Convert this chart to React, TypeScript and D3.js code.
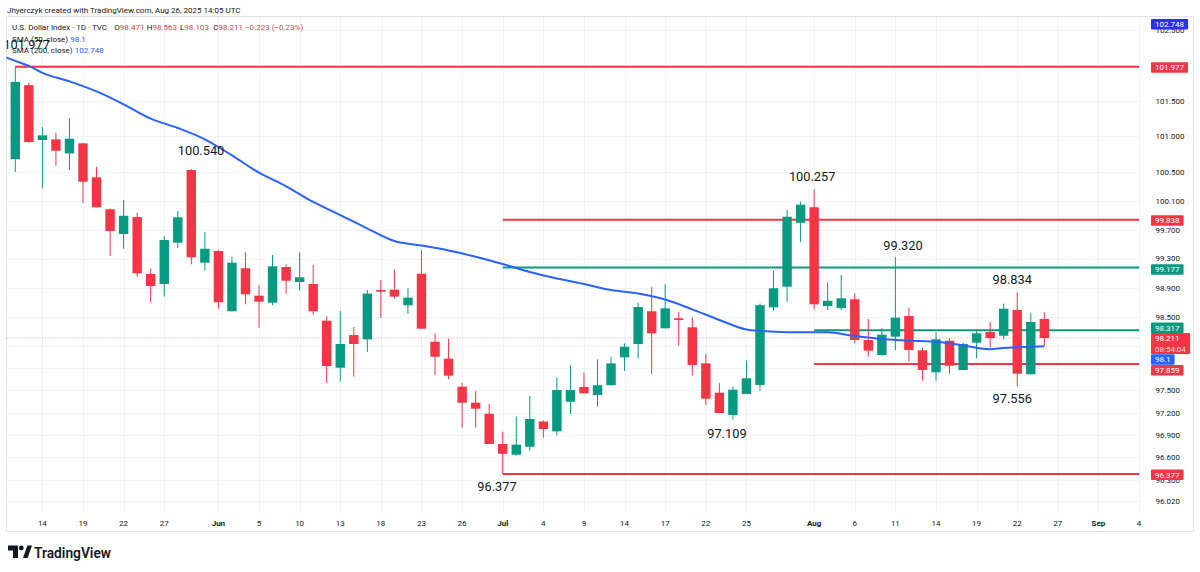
import React, { useEffect } from "react";
import * as d3 from "d3";

// ---------- DATA ----------
// Daily bars from May 12 2025 (index 0) to Aug 26 2025 (index 76), weekdays only.
const opens = [
  100.68, 101.718, 100.947, 100.957, 100.76, 100.901, 100.426, 99.982, 99.639, 99.874,
  99.088, 98.951, 99.519, 100.528, 99.244, 99.405, 98.577, 99.167, 98.79, 98.694,
  99.184, 98.978, 98.951, 98.448, 97.808, 98.252, 98.194, 98.868, 98.873, 98.659,
  99.092, 98.161, 97.93, 97.551, 97.334, 97.185, 96.778, 96.634, 96.741, 97.08,
  96.948, 97.347, 97.547, 97.438, 97.57, 97.949, 98.13, 98.577, 98.344, 98.481,
  98.358, 97.868, 97.469, 97.168, 97.452, 97.574, 98.631, 98.914, 99.795, 100.01,
  98.649, 98.621, 98.741, 98.184, 97.98, 98.23, 98.512, 98.044, 97.746, 98.175,
  97.777, 98.148, 98.293, 98.243, 98.594, 97.719, 98.471,
];
const highs = [
  101.977, 101.755, 101.129, 101.049, 101.251, 100.905, 100.574, 99.996, 100.111, 99.934,
  99.161, 99.611, 99.957, 100.54, 99.667, 99.419, 99.326, 99.387, 98.937, 99.35,
  99.221, 99.387, 99.216, 98.508, 98.581, 98.362, 98.868, 99.006, 99.153, 98.892,
  99.419, 98.276, 98.202, 97.605, 97.492, 97.316, 96.943, 97.15, 97.424, 97.097,
  97.673, 97.841, 97.741, 97.922, 97.957, 98.139, 98.694, 98.91, 98.947, 98.571,
  98.495, 98.0, 97.597, 97.551, 97.903, 98.682, 99.13, 99.972, 100.088, 100.257,
  98.974, 99.074, 98.823, 98.471, 98.344, 99.32, 98.626, 98.08, 98.289, 98.208,
  98.148, 98.33, 98.434, 98.681, 98.834, 98.549, 98.563,
];
const lows = [
  100.5, 100.909, 100.273, 100.588, 100.528, 100.065, 100.005, 99.336, 99.436, 99.051,
  98.7, 98.777, 99.446, 99.221, 99.133, 98.612, 98.577, 98.672, 98.352, 98.659,
  98.818, 98.864, 98.53, 97.605, 97.619, 97.686, 98.021, 98.485, 98.749, 98.54,
  98.339, 97.709, 97.651, 96.997, 97.002, 96.778, 96.377, 96.62, 96.687, 96.862,
  96.895, 97.181, 97.461, 97.28, 97.57, 97.764, 97.935, 97.723, 98.344, 98.107,
  97.7, 97.303, 97.195, 97.109, 97.452, 97.497, 98.585, 98.708, 99.526, 98.604,
  98.594, 98.594, 98.14, 97.957, 97.967, 98.048, 97.889, 97.632, 97.632, 97.723,
  97.777, 97.935, 98.082, 98.194, 97.556, 97.719, 98.103,
];
const closes = [
  101.765, 100.919, 101.013, 100.797, 100.965, 100.365, 100.01, 99.681, 99.892, 99.097,
  98.923, 99.556, 99.87, 99.318, 99.436, 98.7, 99.244, 98.809, 98.708, 99.194,
  98.996, 99.043, 98.577, 97.831, 98.13, 98.13, 98.818, 98.845, 98.777, 98.763,
  98.339, 97.957, 97.7, 97.334, 97.253, 96.778, 96.647, 96.769, 97.114, 96.979,
  97.506, 97.506, 97.461, 97.57, 97.866, 98.093, 98.635, 98.276, 98.617, 98.458,
  97.845, 97.388, 97.195, 97.51, 97.665, 98.66, 98.892, 99.878, 100.046, 98.672,
  98.721, 98.754, 98.184, 98.039, 98.257, 98.489, 98.048, 97.777, 98.194, 97.835,
  98.13, 98.276, 98.212, 98.612, 97.727, 98.43, 98.211,
];

// SMA(50) at selected bars
const smaBars = [-1, 0, 1, 2, 4, 6, 8, 10, 12, 14, 16, 18, 20, 22, 24, 26, 28, 30, 32, 34, 36, 38, 40, 42, 44, 46, 48, 50, 52, 54, 55, 57, 60, 62, 64, 66, 68, 70, 72, 73, 74, 76];
const smaValues = [102.133, 102.062, 101.991, 101.892, 101.772, 101.63, 101.449, 101.248, 101.115, 100.957, 100.732, 100.49, 100.301, 100.083, 99.902, 99.715, 99.542, 99.48, 99.412, 99.326, 99.226, 99.116, 99.026, 98.951, 98.868, 98.82, 98.738, 98.603, 98.458, 98.329, 98.309, 98.291, 98.289, 98.239, 98.198, 98.175, 98.161, 98.11, 98.059, 98.076, 98.085, 98.1];

// Horizontal levels
const levelValues = [101.977, 99.838, 99.177, 98.317, 97.859, 96.377];
const levelStartBars = [0, 36, 36, 59, 59, 36];
const levelKinds = ["red", "red", "green", "green", "red", "red"];

// Annotated extremes
const noteBars = [0, 13, 59, 65, 74, 74, 53, 36];
const noteKinds = ["high", "high", "high", "high", "high", "low", "low", "low"];
const noteTexts = ["101.977", "100.540", "100.257", "99.320", "98.834", "97.556", "97.109", "96.377"];

// Price axis
const gridValues = [102.5, 102.0, 101.5, 101.0, 100.5, 100.1, 99.7, 99.3, 98.9, 98.5, 98.1, 97.8, 97.5, 97.2, 96.9, 96.6, 96.3, 96.02];
const tickLabelValues = [102.5, 101.5, 101.0, 100.5, 100.1, 99.7, 99.3, 98.9, 98.5, 97.5, 97.2, 96.9, 96.6, 96.3, 96.02];

// Time axis
const timeTickBars = [2, 5, 8, 11, 15, 18, 21, 24, 27, 30, 33, 36, 39, 42, 45, 48, 51, 54, 59, 62, 65, 68, 71, 74, 77, 80, 83];
const timeTickLabels = ["14", "19", "22", "27", "Jun", "5", "10", "13", "18", "23", "26", "Jul", "4", "9", "14", "17", "22", "25", "Aug", "6", "11", "14", "19", "22", "27", "Sep", "4"];

// Price tags on the right axis
const tagTexts = ["102.748", "101.977", "99.838", "99.177", "98.317", "98.211", "98.1", "97.859", "96.377"];
const tagSubTexts = ["", "", "", "", "", "08:54:04", "", "", ""];
const tagKinds = ["blue2", "red", "red", "green", "green", "red", "blue", "red", "red"];

const legendOHLC = [
  { k: "O", v: "98.471" },
  { k: "H", v: "98.563" },
  { k: "L", v: "98.103" },
  { k: "C", v: "98.211" },
];
const changeText = "\u22120.223 (\u22120.23%)";

// ---------- LAYOUT / STYLE ----------
const W = 1200;
const H = 572;
const PANE = { left: 6.5, top: 16.5, right: 1139.5, bottom: 513.5 };
const FRAME_RIGHT = 1193.5;
const FRAME_BOTTOM = 531.5;
const COLORS: Record<string, string> = {
  green: "#089981",
  red: "#f23645",
  blue: "#2962ff",
  blue2: "#2b2ff5",
  text: "#131722",
  grid: "#f0f3fa",
  frame: "#e0e3eb",
};
const FONT = "Roboto, 'Noto Sans', Arial, sans-serif";
const tagTops = [19, 62.3, 215.3, 264.3, 322.5, 333, 354.2, 365, 469.5];
const tagH = 10.5;
const noteDx = [11.4, 9.7, -2, 7.6, -5, -5, -6, -5.7];
const noteDy = [-17.7, -14.5, -8, -7.3, -8.7, 16.7, 18.7, 17.4];
const legendX = [114.3, 146.7, 180, 213.3];

function textWidth(s: string, size: number) {
  let w = 0;
  for (const ch of s) {
    if (ch === "." || ch === ":") w += 0.26;
    else w += 0.562;
  }
  return w * size;
}

export default function App() {
  useEffect(() => {
    document.body.style.margin = "0";
  }, []);

  const x = d3.scaleLinear().domain([0, 83]).range([15.3, 1139.1]);
  const y = d3.scaleLog().domain([102.5, 96.02]).range([30, 500.67]);

  const bodyW = 9.4;
  const smaLine = d3
    .line<number>()
    .x((_, i) => x(smaBars[i]))
    .y((d) => y(d))
    .curve(d3.curveMonotoneX);

  const crisp = (v: number) => Math.round(v) + 0.5;

  return (
    <svg
      width={W}
      height={H}
      viewBox={`0 0 ${W} ${H}`}
      style={{ position: "fixed", left: 0, top: 0, background: "#ffffff", display: "block" }}
      fontFamily={FONT}
    >
      <rect x={0} y={0} width={W} height={H} fill="#ffffff" />
      <defs>
        <clipPath id="pane">
          <rect x={PANE.left} y={PANE.top} width={PANE.right - PANE.left} height={PANE.bottom - PANE.top} />
        </clipPath>
      </defs>

      {/* grid */}
      <g stroke={COLORS.grid} strokeWidth={1}>
        {gridValues.map((v, i) => (
          <line key={"gy" + i} x1={PANE.left} x2={PANE.right} y1={crisp(y(v))} y2={crisp(y(v))} />
        ))}
        {timeTickBars.map((b, i) => (
          <line key={"gx" + i} x1={crisp(x(b))} x2={crisp(x(b))} y1={PANE.top} y2={PANE.bottom} />
        ))}
      </g>

      {/* frame */}
      <rect
        x={PANE.left}
        y={PANE.top}
        width={FRAME_RIGHT - PANE.left}
        height={FRAME_BOTTOM - PANE.top}
        fill="none"
        stroke={COLORS.frame}
      />
      <line x1={PANE.right} x2={PANE.right} y1={PANE.top} y2={PANE.bottom} stroke={COLORS.grid} />

      <g clipPath="url(#pane)">
        {/* current price dotted line */}
        <line
          x1={PANE.left}
          x2={PANE.right}
          y1={y(closes[closes.length - 1])}
          y2={y(closes[closes.length - 1])}
          stroke={COLORS.red}
          strokeOpacity={0.55}
          strokeWidth={1}
          strokeDasharray="1 2"
        />

        {/* horizontal levels */}
        {levelValues.map((v, i) => (
          <line
            key={"lv" + i}
            x1={x(levelStartBars[i])}
            x2={PANE.right}
            y1={y(v)}
            y2={y(v)}
            stroke={COLORS[levelKinds[i]]}
            strokeWidth={2}
          />
        ))}

        {/* candles */}
        {opens.map((o, i) => {
          const c = closes[i];
          const up = c >= o;
          const col = up ? COLORS.green : COLORS.red;
          const cx = x(i);
          const top = y(Math.max(o, c));
          const bot = y(Math.min(o, c));
          return (
            <g key={"c" + i}>
              <line x1={cx} x2={cx} y1={y(highs[i])} y2={y(lows[i])} stroke={col} strokeWidth={1} />
              <rect x={cx - bodyW / 2} y={top} width={bodyW} height={Math.max(1, bot - top)} fill={col} />
            </g>
          );
        })}

        {/* SMA 50 */}
        <path d={smaLine(smaValues) || ""} fill="none" stroke={COLORS.blue} strokeWidth={2} />

        {/* annotations */}
        {noteBars.map((b, i) => {
          const py = noteKinds[i] === "high" ? y(highs[b]) : y(lows[b]);
          return (
            <text
              key={"n" + i}
              x={x(b) + noteDx[i]}
              y={py + noteDy[i]}
              textAnchor="middle"
              fontSize={12.8}
              fill={COLORS.text}
            >
              {noteTexts[i]}
            </text>
          );
        })}
      </g>

      {/* legend */}
      <text x={7} y={13} fontSize={8} fill={COLORS.text}>
        Jhyerczyk created with TradingView.com, Aug 26, 2025 14:05 UTC
      </text>
      <text x={12} y={29.5} fontSize={8} fill={COLORS.text}>
        U.S. Dollar Index · 1D · TVC
      </text>
      {legendOHLC.map((d, i) => (
        <text key={"lg" + i} x={legendX[i]} y={29.5} fontSize={8} fill={COLORS.text}>
          {d.k}
          <tspan fill={COLORS.red}>{d.v}</tspan>
        </text>
      ))}
      <text x={245} y={29.5} fontSize={8} fill={COLORS.red}>
        {changeText}
      </text>
      <text x={12} y={41.5} fontSize={8} fill={COLORS.text}>
        SMA (50, close) <tspan fill={COLORS.blue}>98.1</tspan>
      </text>
      <text x={12} y={53} fontSize={8} fill={COLORS.text}>
        SMA (200, close) <tspan fill={COLORS.blue}>102.748</tspan>
      </text>

      {/* price axis labels */}
      {tickLabelValues.map((v, i) => (
        <text key={"yl" + i} x={1155.5} y={y(v) + 2.9} fontSize={8} fill={COLORS.text}>
          {v.toFixed(3)}
        </text>
      ))}

      {/* price tags */}
      {tagTexts.map((t, i) => {
        const sub = tagSubTexts[i];
        const wText = Math.max(textWidth(t, 8), sub ? textWidth(sub, 8) : 0);
        const h = sub ? tagH * 2 : tagH;
        return (
          <g key={"tg" + i}>
            <rect x={1151} y={tagTops[i]} width={wText + 8} height={h} fill={COLORS[tagKinds[i]]} rx={1} />
            <text x={1155} y={tagTops[i] + tagH / 2 + 2.9} fontSize={8} fill="#ffffff">
              {t}
            </text>
            {sub && (
              <text x={1155} y={tagTops[i] + tagH * 1.5 + 2.9} fontSize={8} fill="#ffffff" fillOpacity={0.8}>
                {sub}
              </text>
            )}
          </g>
        );
      })}

      {/* time axis labels */}
      {timeTickBars.map((b, i) => {
        const isMonth = /[A-Za-z]/.test(timeTickLabels[i]);
        return (
          <text
            key={"xl" + i}
            x={x(b)}
            y={526}
            textAnchor="middle"
            fontSize={8}
            fontWeight={isMonth ? 700 : 400}
            fill={COLORS.text}
          >
            {timeTickLabels[i]}
          </text>
        );
      })}

      {/* TradingView logo */}
      <g fill={COLORS.text}>
        <path d="M8,545.5 H18 V558 H13 V550.5 H8 Z" />
        <circle cx={21.3} cy={548} r={2.4} />
        <path d="M23,558 L27.4,545.5 H32 L27.6,558 Z" />
        <text x={34} y={557.5} fontSize={15} fontWeight={600} textLength={77} lengthAdjust="spacingAndGlyphs">
          TradingView
        </text>
      </g>
    </svg>
  );
}
